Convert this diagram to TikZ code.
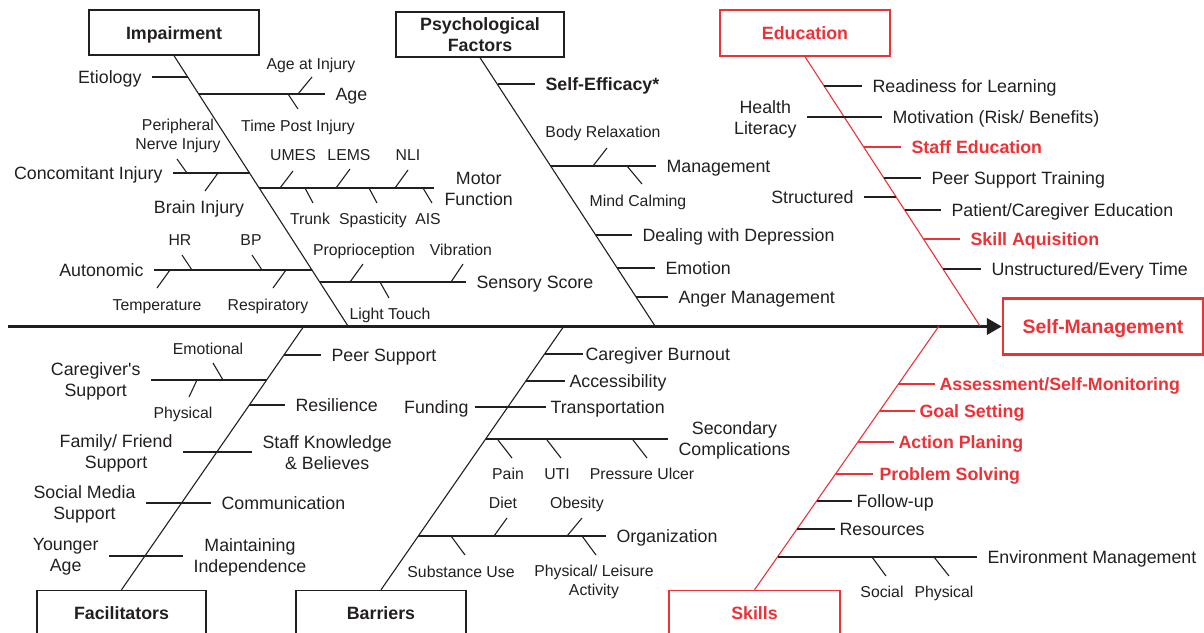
\documentclass[tikz,border=0pt]{standalone}
\usepackage{fontspec}
\setmainfont{Liberation Sans}
\usetikzlibrary{positioning,arrows.meta}
\definecolor{ink}{RGB}{35,31,32}
\definecolor{edured}{RGB}{237,50,55}

\tikzset{
  headbox/.style={draw, line width=1.4pt, minimum width=170pt, minimum height=45pt,
    align=center, font=\fontsize{17.8}{21}\selectfont\bfseries},
  redbox/.style={headbox, draw=edured, text=edured},
  oneline/.style={text height=13pt, text depth=0pt},
  lbl/.style={inner xsep=10pt, inner ysep=1pt, text height=16pt, text depth=3.3pt},
  closelbl/.style={lbl, inner xsep=4pt},
  twolbl/.style={inner xsep=10pt, align=center},
  hot/.style={text=edured, font=\fontsize{17.8}{21}\selectfont\bfseries},
  sublbl/.style={font=\fontsize{15.8}{18}\selectfont, text height=14pt, text depth=2.8pt, inner sep=0pt},
  subtwo/.style={font=\fontsize{15.8}{18.5}\selectfont, align=center, inner sep=0pt},
  spinearrow/.style={line width=3.6pt, -{Triangle[length=15pt, width=16pt]}},
  hotline/.style={edured, line width=1.1pt},
}

\begin{document}
\begin{tikzpicture}[x=1pt, y=-1pt, color=ink, line width=1.1pt, font=\fontsize{17.8}{21}\selectfont]
  \useasboundingbox (0, 0) rectangle (1204, 632);

  % heads and spine
  \node [headbox, oneline] at (174, 32.5) (imp) {Impairment};
  \node [headbox, minimum width=168pt] at (480, 34.5) (psy) {Psychological\\Factors};
  \node [redbox, oneline, minimum height=46pt] at (805, 33) (edu) {Education};
  \node [headbox, oneline, minimum width=169pt] at (121.5, 613) (fac) {Facilitators};
  \node [headbox, oneline] at (381, 613) (bar) {Barriers};
  \node [redbox, oneline, minimum width=171pt] at (754.5, 613) (skl) {Skills};
  \node [redbox, oneline, line width=2.4pt, minimum width=200pt, minimum height=56pt,
    font=\fontsize{19.4}{23}\selectfont\bfseries] at (1103, 326.5) (sm) {Self-Management};

  \coordinate (tail) at (8, 326.5);
  \draw [spinearrow] (tail) -- (sm.west);

  \path (348, 326) coordinate (imp-s) (655, 326) coordinate (psy-s) (980, 326) coordinate (edu-s)
        (304, 326) coordinate (fac-s) (564, 326) coordinate (bar-s) (939, 326) coordinate (skl-s);
  \draw (imp.south) -- (imp-s);
  \draw (psy.south) -- (psy-s);
  \draw [hotline] (edu.south) -- (edu-s);
  \draw (fac.north) -- (fac-s);
  \draw (bar.north) -- (bar-s);
  \draw [hotline] (skl.north) -- (skl-s);

  % impairment
  \path (188, 77) coordinate (etio-b) (199, 94) coordinate (age-b) (250, 173) coordinate (conc-b)
        (259, 188) coordinate (motor-b) (312, 270) coordinate (auto-b) (320, 282) coordinate (sens-b);
  \node [lbl, anchor=east] at (152, 77) (etio) {Etiology};
  \node [lbl, anchor=west] at (325, 94) (age) {Age};
  \node [lbl, anchor=east] at (173, 173) (conc) {Concomitant Injury};
  \node [twolbl, anchor=west] at (434, 189) (motor) {Motor\\Function};
  \node [lbl, anchor=east] at (154, 270) (auto) {Autonomic};
  \node [lbl, anchor=west] at (466, 282) (sens) {Sensory Score};
  \draw (etio) -- (etio-b);
  \draw (age-b) -- (age);
  \draw (conc) -- (conc-b);
  \draw (motor-b) -- (motor.west |- motor-b);
  \draw (auto) -- (auto-b);
  \draw (sens-b) -- (sens);

  \node [sublbl] at (311, 64) (ageinj) {Age at Injury};
  \node [sublbl] at (298, 126) (tpi) {Time Post Injury};
  \draw (298, 94) -- (312, 77);
  \draw (288, 94) -- (298, 109);
  \node [subtwo] at (178, 136) (pni) {Peripheral\\Nerve Injury};
  \node [lbl] at (199, 207) (brain) {Brain Injury};
  \draw (177, 159) -- (187, 173);
  \draw (205, 191) -- (218, 173);
  \node [sublbl] at (293, 155) (umes) {UMES};
  \node [sublbl] at (349, 155) (lems) {LEMS};
  \node [sublbl] at (408, 155) (nli) {NLI};
  \node [sublbl] at (310, 219) (trunk) {Trunk};
  \node [sublbl] at (373, 219) (spas) {Spasticity};
  \node [sublbl] at (428, 219) (ais) {AIS};
  \draw (280, 188) -- (293, 171);
  \draw (336, 188) -- (350, 169);
  \draw (395, 188) -- (408, 170);
  \draw (305, 188) -- (313, 203);
  \draw (369, 188) -- (377, 203);
  \draw (423, 188) -- (432, 203);
  \node [sublbl] at (180, 240) (hr) {HR};
  \node [sublbl] at (251, 240) (bp) {BP};
  \node [sublbl] at (157, 305) (temp) {Temperature};
  \node [sublbl] at (268, 305) (resp) {Respiratory};
  \draw (182, 255) -- (192, 270);
  \draw (252, 255) -- (262, 270);
  \draw (157, 288) -- (170, 270);
  \draw (273, 288) -- (286, 270);
  \node [sublbl] at (364, 250) (prop) {Proprioception};
  \node [sublbl] at (461, 250) (vib) {Vibration};
  \node [sublbl] at (390, 314) (touch) {Light Touch};
  \draw (350, 282) -- (363, 264);
  \draw (451, 282) -- (463, 264);
  \draw (380, 282) -- (389, 298);

  % psychological factors
  \path (498, 84) coordinate (self-b) (551, 166) coordinate (man-b) (596, 235) coordinate (deal-b)
        (617, 268) coordinate (emo-b) (636, 297) coordinate (ang-b);
  \node [lbl, anchor=west, font=\fontsize{17.8}{21}\selectfont\bfseries] at (535, 84) (self) {Self-Efficacy*};
  \node [lbl, anchor=west] at (656, 166) (man) {Management};
  \node [lbl, anchor=west] at (632, 235) (deal) {Dealing with Depression};
  \node [lbl, anchor=west] at (655, 268) (emo) {Emotion};
  \node [lbl, anchor=west] at (668, 297) (ang) {Anger Management};
  \draw (self-b) -- (self);
  \draw (man-b) -- (man);
  \draw (deal-b) -- (deal);
  \draw (emo-b) -- (emo);
  \draw (ang-b) -- (ang);
  \node [sublbl] at (603, 132) (body) {Body Relaxation};
  \node [sublbl] at (638, 201) (mind) {Mind Calming};
  \draw (593, 166) -- (607, 148);
  \draw (627, 166) -- (642, 184);

  % education
  \path (824, 86) coordinate (read-b) (864, 147) coordinate (stf-b) (884, 178) coordinate (peer-b)
        (896, 197) coordinate (struc-b) (905, 210) coordinate (pat-b) (924, 239) coordinate (skill-b)
        (943, 269) coordinate (unst-b);
  \node [lbl, anchor=west] at (862, 86) (read) {Readiness for Learning};
  \node [twolbl, anchor=east] at (807, 119) (hlit) {Health\\Literacy};
  \node [lbl, anchor=west] at (882, 117) (motiv) {Motivation (Risk/ Benefits)};
  \node [lbl, hot, anchor=west] at (901, 147) (stf) {Staff Education};
  \node [lbl, anchor=west] at (921, 178) (peer) {Peer Support Training};
  \node [lbl, anchor=east] at (864, 197) (struc) {Structured};
  \node [lbl, anchor=west] at (941, 210) (pat) {Patient/Caregiver Education};
  \node [lbl, hot, anchor=west] at (960, 239) (skill) {Skill Aquisition};
  \node [lbl, anchor=west] at (981, 269) (unst) {Unstructured/Every Time};
  \draw (read-b) -- (read);
  \draw (hlit.east |- motiv) -- (motiv);
  \draw [hotline] (stf-b) -- (stf);
  \draw (peer-b) -- (peer);
  \draw (struc) -- (struc-b);
  \draw (pat-b) -- (pat);
  \draw [hotline] (skill-b) -- (skill);
  \draw (unst-b) -- (unst);

  % facilitators
  \path (284, 355) coordinate (psup-b) (267, 380) coordinate (care-b) (249, 405) coordinate (res-b);
  \node [lbl, anchor=west] at (321, 355) (psup) {Peer Support};
  \node [twolbl, anchor=east] at (151, 381) (care) {Caregiver\textquotesingle s\\Support};
  \node [lbl, anchor=west] at (285, 405) (res) {Resilience};
  \node [twolbl, anchor=east] at (183, 453) (fam) {Family/ Friend\\Support};
  \node [twolbl, anchor=west] at (252, 453) (know) {Staff Knowledge\\\& Believes};
  \node [twolbl, anchor=east] at (146, 504) (social) {Social Media\\Support};
  \node [lbl, anchor=west] at (211, 503) (comm) {Communication};
  \node [twolbl, anchor=east] at (109, 557) (young) {Younger\\Age};
  \node [twolbl, anchor=west] at (183, 557) (indep) {Maintaining\\Independence};
  \draw (psup-b) -- (psup);
  \draw (care.east |- care-b) -- (care-b);
  \draw (res-b) -- (res);
  \draw (fam.east |- 0, 452) -- (know.west |- 0, 452);
  \draw (social.east |- comm) -- (comm);
  \draw (young.east |- 0, 556) -- (indep.west |- 0, 556);
  \node [sublbl] at (208, 349) (emot) {Emotional};
  \node [sublbl] at (183, 413) (phys) {Physical};
  \draw (213, 363) -- (223, 380);
  \draw (189, 397) -- (197, 380);

  % barriers
  \path (545, 354) coordinate (burn-b) (526, 381) coordinate (acc-b) (486, 439) coordinate (sec-b)
        (418, 536) coordinate (org-b);
  \node [closelbl, inner xsep=2pt, anchor=west] at (583, 354) (burn) {Caregiver Burnout};
  \node [closelbl, anchor=west] at (565, 381) (acc) {Accessibility};
  \node [lbl, inner xsep=6pt, anchor=east] at (475, 407) (fund) {Funding};
  \node [closelbl, anchor=west] at (546, 407) (trans) {Transportation};
  \node [twolbl, anchor=west] at (668, 440) (sec) {Secondary\\Complications};
  \node [lbl, anchor=west] at (606, 536) (org) {Organization};
  \draw (burn-b) -- (burn);
  \draw (acc-b) -- (acc);
  \draw (fund) -- (trans);
  \draw (sec-b) -- (sec.west |- sec-b);
  \draw (org-b) -- (org);
  \node [sublbl] at (508, 474) (pain) {Pain};
  \node [sublbl] at (557, 474) (uti) {UTI};
  \node [sublbl] at (642, 474) (ulcer) {Pressure Ulcer};
  \draw (498, 440) -- (512, 458);
  \draw (547, 440) -- (561, 458);
  \draw (633, 440) -- (647, 458);
  \node [sublbl] at (503, 503) (diet) {Diet};
  \node [sublbl] at (577, 503) (obes) {Obesity};
  \node [sublbl] at (461, 572) (subst) {Substance Use};
  \node [subtwo] at (594, 582) (leis) {Physical/ Leisure\\Activity};
  \draw (494, 536) -- (507, 518);
  \draw (567, 536) -- (582, 518);
  \draw (451, 536) -- (465, 555);
  \draw (582, 536) -- (596, 555);

  % skills
  \path (898, 384) coordinate (ass-b) (880, 411) coordinate (goal-b) (858, 442) coordinate (act-b)
        (835.5, 474) coordinate (prob-b) (817, 501) coordinate (fol-b) (797, 529) coordinate (resr-b)
        (777.5, 557) coordinate (env-b);
  \node [closelbl, hot, anchor=west] at (935, 384) (ass) {Assessment/Self-Monitoring};
  \node [closelbl, hot, anchor=west] at (915, 411) (goal) {Goal Setting};
  \node [closelbl, hot, anchor=west] at (894, 442) (act) {Action Planing};
  \node [closelbl, hot, inner xsep=6pt, anchor=west] at (873, 474) (prob) {Problem Solving};
  \node [closelbl, anchor=west] at (852, 501) (fol) {Follow-up};
  \node [closelbl, anchor=west] at (835, 529) (resr) {Resources};
  \node [lbl, anchor=west] at (977, 557) (env) {Environment Management};
  \draw [hotline] (ass-b) -- (ass);
  \draw [hotline] (goal-b) -- (goal);
  \draw [hotline] (act-b) -- (act);
  \draw [hotline] (prob-b) -- (prob);
  \draw (fol-b) -- (fol);
  \draw (resr-b) -- (resr);
  \draw (env-b) -- (env);
  \node [sublbl] at (882, 592) (soc) {Social};
  \node [sublbl] at (944, 592) (physb) {Physical};
  \draw (872, 557) -- (886, 576);
  \draw (934, 557) -- (949, 576);
\end{tikzpicture}
\end{document}
